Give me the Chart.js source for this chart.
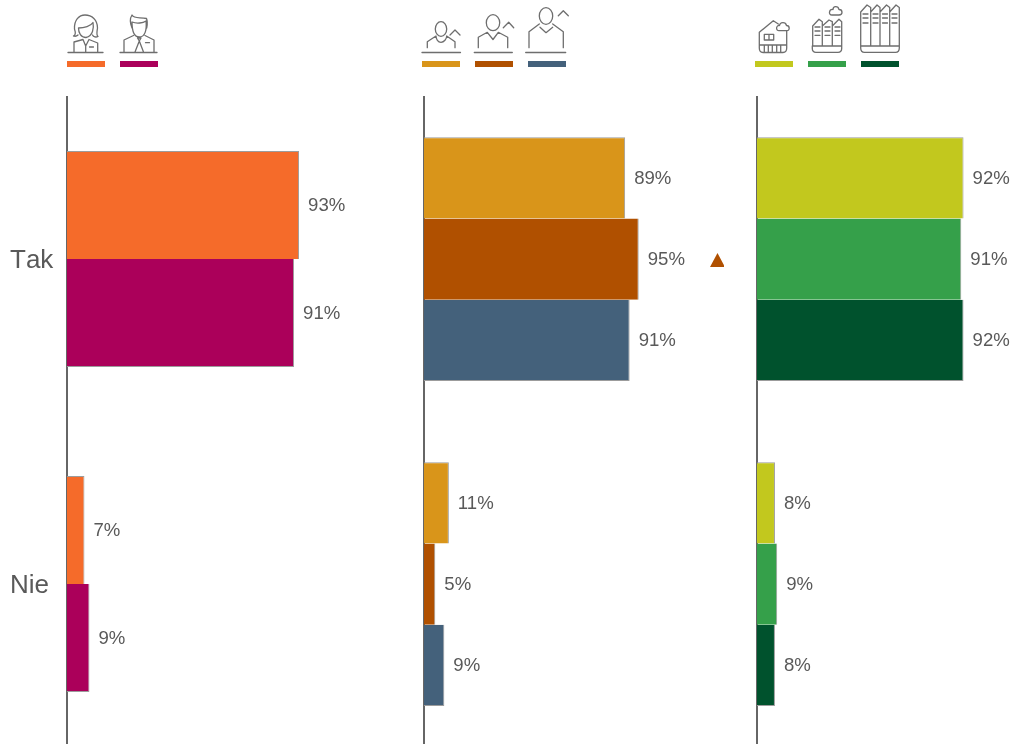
<!DOCTYPE html>
<html>
<head>
<meta charset="utf-8">
<script src="https://cdn.jsdelivr.net/npm/chart.js@4"></script>
<style>
html,body{margin:0;padding:0;background:#fff;overflow:hidden;}
#page{position:relative;width:1011px;height:744px;overflow:hidden;background:#fff;}
#page canvas{position:absolute;top:96px;}
#icons{position:absolute;left:0;top:0;}
#icons path,#icons ellipse{fill:none;stroke:#6e6e6e;stroke-width:1.3;stroke-linejoin:round;stroke-linecap:round;}
</style>
</head>
<body>
<div id="page">
<canvas id="gender" width="367" height="651" style="left:0"></canvas>
<canvas id="age" width="304" height="651" style="left:420px"></canvas>
<canvas id="town" width="258" height="651" style="left:753px"></canvas>
<svg id="icons" width="1011" height="90" xmlns="http://www.w3.org/2000/svg"></svg>
</div>
<script>
const categories = ["Tak", "Nie"];

const woman = [93, 7];
const man = [91, 9];

const youngest = [89, 11];
const middle = [95, 5];
const oldest = [91, 9];

const village = [92, 8];
const smallTown = [91, 9];
const bigCity = [92, 8];

const genderColors = ["#f56b2a", "#ab005a"];
const ageColors = ["#d9951a", "#b05000", "#44617b"];
const townColors = ["#c2c81e", "#35a04a", "#00522d"];

const textColor = "#595959";
const axisColor = "#666666";
const fontFamily = "'Liberation Sans', Arial, sans-serif";

// value labels at the end of each bar, category names and the optional up-arrow marker
const barLabels = {
  id: "barLabels",
  afterDatasetsDraw(chart, args, opts) {
    const ctx = chart.ctx;
    ctx.save();
    ctx.fillStyle = textColor;
    ctx.textAlign = "left";
    ctx.textBaseline = "middle";
    ctx.font = "18.6px " + fontFamily;
    chart.data.datasets.forEach(function (ds, i) {
      chart.getDatasetMeta(i).data.forEach(function (bar, j) {
        ctx.fillText(ds.data[j] + "%", bar.x + 9, bar.y + 1);
      });
    });
    if (opts.showCategories) {
      ctx.font = "26px " + fontFamily;
      ctx.fontKerning = "none";
      categories.forEach(function (name, i) {
        ctx.fillText(name, 10, chart.scales.y.getPixelForTick(i) + 2);
      });
    }
    if (opts.marker) {
      const bar = chart.getDatasetMeta(opts.marker.dataset).data[opts.marker.index];
      const x = chart.chartArea.left + opts.marker.offset;
      ctx.fillStyle = chart.data.datasets[opts.marker.dataset].backgroundColor;
      ctx.beginPath();
      ctx.moveTo(x, bar.y - 6);
      ctx.lineTo(x + 7.5, bar.y + 8);
      ctx.lineTo(x - 7.5, bar.y + 8);
      ctx.closePath();
      ctx.fill();
    }
    ctx.restore();
  }
};

function makePanel(id, series, colors, o) {
  new Chart(document.getElementById(id), {
    type: "bar",
    data: {
      labels: categories,
      datasets: series.map(function (values, i) {
        return {
          data: values,
          backgroundColor: colors[i],
          borderColor: "#9c9c9c",
          // outline only on the outside of each group, neighbours touch
          borderWidth: {
            top: i === 0 ? 1 : 0,
            right: 1,
            bottom: i === series.length - 1 ? 1 : 0,
            left: 0
          },
          borderSkipped: false,
          categoryPercentage: o.groupWidth,
          barPercentage: 1
        };
      })
    },
    options: {
      indexAxis: "y",
      responsive: false,
      animation: false,
      layout: { padding: { left: o.left, right: o.right, top: 0.5, bottom: 0.5 } },
      scales: {
        x: { display: false, min: 0, max: 100 },
        y: {
          afterFit: function (scale) { scale.width = o.gutter; },
          grid: { display: false },
          border: { color: axisColor, width: 2 },
          ticks: { display: false }
        }
      },
      plugins: {
        legend: { display: false },
        tooltip: { enabled: false },
        barLabels: { marker: o.marker, showCategories: o.gutter > 0 }
      }
    },
    plugins: [barLabels]
  });
}

makePanel("gender", [woman, man], genderColors,
  { gutter: 67, left: 0, right: 50.5, groupWidth: 0.665 });
makePanel("age", [youngest, middle, oldest], ageColors,
  { gutter: 0, left: 4, right: 74, groupWidth: 0.75, marker: { dataset: 1, index: 0, offset: 293.5 } });
makePanel("town", [village, smallTown, bigCity], townColors,
  { gutter: 0, left: 4, right: 29.5, groupWidth: 0.75 });

// legend swatches under the pictograms
const swatchLefts = [67, 120, 422, 475, 528, 755, 808, 861];
const swatchColors = genderColors.concat(ageColors, townColors);

// line pictograms above each swatch
const iconPaths = [
  // woman
  "M68 52.5H103M73.5 36C76 35 75.5 32 74.5 29C74 20 79 15 85 15C92 15 97.5 20 97.5 28C97 32 96 35 98 36.5C96 37.5 93.5 37 92.5 35M78 35C76.5 36.5 75 36.5 73.5 36M78.5 28C84 28 91 26 93 22.5C94 28 93 36 86 37.5C81 37.5 78.5 33 78.5 28ZM74 52V42L83 39.5L85.7 46L89 39.5L97.7 43V52M85.7 46L85.7 52M89.5 47H93.5",
  // man
  "M120 52.5H157M132 28C130 23 130 18 132 15C134 19 140 17 146.5 18.5C148 22 147 26 146.7 28M132 22C137 24 143 23 146 21C147 30 145 37 139.3 37C134 37 132 32 132 22ZM124 52V40L133.5 35.5M145 35.5L154 40V52M137.5 38H141L139.3 41ZM139.3 41L135 52M139.3 41L143.5 52M145.5 42.7H149.5",
  // age groups
  "M422 52.5H460.5M427.3 47.7V41.7L436 36C436 39 438 42.3 441 42.3C444 42.3 446.7 39 446.7 36L455 41.7V47.7M450 35L455 30L460 35",
  "M474.3 52.5H512.3M478.3 47.7V37.3L487.3 32.3L493 39.5L498.3 32.3L507.7 37.3V47.7M503.3 27.7L508.7 22.3L513.7 27.7",
  "M525.7 52.5H565.7M529 47.7V31.7L539.3 24M540 27.3L546 32.7L552.7 27.3M552.7 24L563.3 31.7V47.7M558.3 15.7L563.3 10.7L568.3 15.7",
  // house
  "M778.3 24L773.3 20.7L759.3 32.3V48C759.3 51 761 52.5 763 52.5H783C785.5 52.5 786.7 51 786.7 48V30.7M764.3 34.3H773.7V40H764.3ZM769 34.3V40M759.3 45H786.7M764.3 45V52.5M768.3 45V52.5M772.3 45V52.5M776.7 45V52.5M780.7 45V52.5M779 30.7H787C790 30.7 790 25.5 786.5 25.5C785.5 21.5 780 22 779.5 25.5C776 25 775.5 30.7 779 30.7Z",
  // small town
  "M812.7 46V26L819 19.3L822.3 21.7V46M822.3 26L829 20L832.3 21.7V46M832.3 26L839 19.3L841.7 21.7V46M812.3 46H841.7V48.5C841.7 51 840 52.3 838 52.3H816C814 52.3 812.3 51 812.3 48.5ZM815 27H820M815 31H820M815 35.3H820M825 27H830M825 31H830M825 35.3H830M835 27H840M835 31H840M835 35.3H840M832 15H839C843 15 843 9.5 839 9.5C838 5.5 833 6 833 9.5C829 9 828 15 832 15Z",
  // big city
  "M860.7 46V12L867 5L870.7 7.5V46M870.7 12L877 5L880 7.5V46M880 12L886.5 5L889.7 7.5V46M889.7 12L896 5L899.3 7.5V46M860.7 46H899.3V48C899.3 51 897.5 52.3 895.5 52.3H864.5C862.5 52.3 860.7 51 860.7 48ZM863 14H868M863 18H868M863 23H868M873 14H878M873 18H878M873 23H878M882.5 14H887.5M882.5 18H887.5M882.5 23H887.5M892 14H897M892 18H897M892 23H897"
];
const iconHeads = [[441, 29, 5.7, 7.3], [493, 22.7, 6.7, 8], [546, 16, 6.7, 8.3]];

const svg = document.getElementById("icons");
const ns = "http://www.w3.org/2000/svg";
swatchLefts.forEach(function (x, i) {
  const r = document.createElementNS(ns, "rect");
  r.setAttribute("x", x);
  r.setAttribute("y", 61);
  r.setAttribute("width", 38);
  r.setAttribute("height", 6);
  r.setAttribute("fill", swatchColors[i]);
  svg.appendChild(r);
});
iconPaths.forEach(function (d) {
  const p = document.createElementNS(ns, "path");
  p.setAttribute("d", d);
  svg.appendChild(p);
});
iconHeads.forEach(function (h) {
  const e = document.createElementNS(ns, "ellipse");
  e.setAttribute("cx", h[0]);
  e.setAttribute("cy", h[1]);
  e.setAttribute("rx", h[2]);
  e.setAttribute("ry", h[3]);
  svg.appendChild(e);
});
</script>
</body>
</html>
